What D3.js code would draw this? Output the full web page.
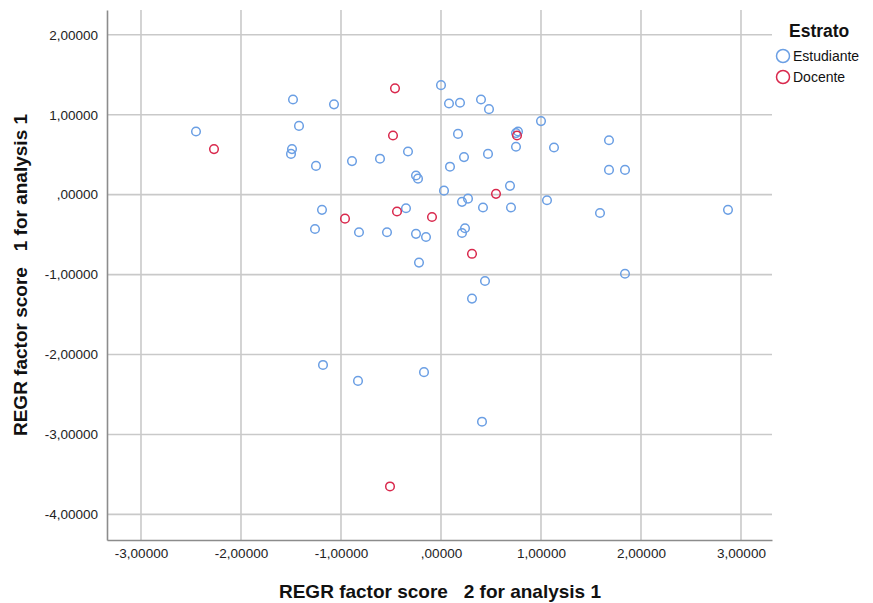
<!DOCTYPE html>
<html>
<head>
<meta charset="utf-8">
<script src="https://cdn.jsdelivr.net/npm/d3@7"></script>
<style>
  body { margin: 0; background: #fff; }
  text { font-family: "Liberation Sans", Arial, sans-serif; }
</style>
</head>
<body>
<svg id="chart" width="873" height="603"></svg>
<script>
// factor score 2 (x) and factor score 1 (y)
var estudianteX = [-2.45, -1.48, -1.42, -1.49, -1.50, -1.25, -1.19, -1.26, -1.07, -0.89,
  -0.82, -0.61, -0.54, -0.33, -0.35, -0.25, -0.23, -0.25, -0.15, -0.22,
  0.00, 0.08, 0.19, 0.40, 0.48, 0.17, 0.09, 0.03, 0.23, 0.47,
  0.21, 0.27, 0.42, 0.24, 0.21, 0.44, 0.31, 0.69, 0.77, 0.75,
  0.75, 0.70, 1.00, 1.13, 1.06, 1.68, 1.68, 1.84, 1.59, 1.84,
  2.87, -1.18, -0.83, -0.17, 0.41];
var estudianteY = [0.79, 1.19, 0.86, 0.57, 0.51, 0.36, -0.19, -0.43, 1.13, 0.42,
  -0.47, 0.45, -0.47, 0.54, -0.17, 0.24, 0.20, -0.49, -0.53, -0.85,
  1.37, 1.14, 1.15, 1.19, 1.07, 0.76, 0.35, 0.05, 0.47, 0.51,
  -0.09, -0.05, -0.16, -0.42, -0.48, -1.08, -1.30, 0.11, 0.79, 0.77,
  0.60, -0.16, 0.92, 0.59, -0.07, 0.68, 0.31, 0.31, -0.23, -0.99,
  -0.19, -2.13, -2.33, -2.22, -2.84];
var docenteX = [-2.27, -0.46, -0.48, -0.96, -0.44, -0.09, 0.55, 0.76, 0.31, -0.51];
var docenteY = [0.57, 1.33, 0.74, -0.30, -0.21, -0.28, 0.01, 0.74, -0.74, -3.65];

var xTicks = [-3, -2, -1, 0, 1, 2, 3];
var yTicks = [2, 1, 0, -1, -2, -3, -4];
var groups = ["Estudiante", "Docente"];
var colors = ["#6b9fe4", "#d9294d"];

var svg = d3.select("#chart");

// plot box (don't call it "top", that's window.top)
var plotL = 107, plotR = 772, plotT = 10, plotB = 540;

var x = d3.scaleLinear().domain([-3.34, 3.31]).range([plotL, plotR]);
var y = d3.scaleLinear().domain([-4.32, 2.31]).range([plotB, plotT]);

var fmt = function (v) {
  var s = Math.abs(v).toFixed(5).replace(".", ",");
  if (s.charAt(0) === "0") s = s.slice(1);
  return (v < 0 ? "-" : "") + s;
};

// grid
svg.append("g").selectAll("line").data(xTicks).enter().append("line")
  .attr("x1", function (d) { return x(d); })
  .attr("x2", function (d) { return x(d); })
  .attr("y1", plotT).attr("y2", plotB)
  .attr("stroke", "#c9c9c9").attr("stroke-width", 1.6);

svg.append("g").selectAll("line").data(yTicks).enter().append("line")
  .attr("x1", plotL).attr("x2", plotR)
  .attr("y1", function (d) { return y(d); })
  .attr("y2", function (d) { return y(d); })
  .attr("stroke", "#c9c9c9").attr("stroke-width", 1.6);

// axes
var xAxis = svg.append("g").attr("transform", "translate(0," + plotB + ")")
  .call(d3.axisBottom(x).tickValues(xTicks).tickFormat(fmt).tickSize(0).tickPadding(8));
var yAxis = svg.append("g").attr("transform", "translate(" + plotL + ",0)")
  .call(d3.axisLeft(y).tickValues(yTicks).tickFormat(fmt).tickSize(0).tickPadding(9));

[xAxis, yAxis].forEach(function (a) {
  a.select(".domain").attr("stroke", "#8c8c8c").attr("stroke-width", 1.6);
  a.selectAll("text").attr("font-size", 13.5).attr("fill", "#222")
    .style("font-family", "'Liberation Sans', Arial, sans-serif");
});

// points
var series = [
  { name: groups[0], xs: estudianteX, ys: estudianteY, color: colors[0] },
  { name: groups[1], xs: docenteX, ys: docenteY, color: colors[1] }
];

series.forEach(function (s) {
  svg.append("g").selectAll("circle").data(d3.range(s.xs.length)).enter().append("circle")
    .attr("cx", function (i) { return x(s.xs[i]); })
    .attr("cy", function (i) { return y(s.ys[i]); })
    .attr("r", 4.3)
    .attr("fill", "none")
    .attr("stroke", s.color)
    .attr("stroke-width", 1.5);
});

// titles
svg.append("text")
  .attr("x", 440).attr("y", 598)
  .attr("text-anchor", "middle")
  .attr("font-size", 19).attr("font-weight", "bold").attr("fill", "#111")
  .style("white-space", "pre")
  .text("REGR factor score   2 for analysis 1");

svg.append("text")
  .attr("transform", "translate(27,275) rotate(-90)")
  .attr("text-anchor", "middle")
  .attr("font-size", 19).attr("font-weight", "bold").attr("fill", "#111")
  .style("white-space", "pre")
  .text("REGR factor score   1 for analysis 1");

// legend
var legend = svg.append("g");
legend.append("text")
  .attr("x", 789).attr("y", 37)
  .attr("font-size", 17.5).attr("font-weight", "bold").attr("fill", "#111")
  .text("Estrato");

var item = legend.selectAll("g.item").data(groups).enter().append("g")
  .attr("class", "item")
  .attr("transform", function (d, i) { return "translate(783," + (56 + i * 21) + ")"; });

item.append("circle")
  .attr("r", 6.5)
  .attr("fill", "none")
  .attr("stroke", function (d, i) { return colors[i]; })
  .attr("stroke-width", 1.5);

item.append("text")
  .attr("x", 10).attr("y", 5)
  .attr("font-size", 14).attr("fill", "#111")
  .text(function (d) { return d; });
</script>
</body>
</html>
